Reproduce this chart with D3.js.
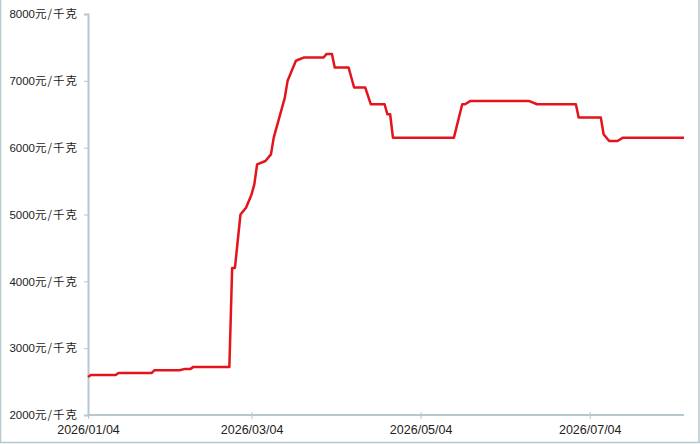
<!DOCTYPE html>
<html>
<head>
<meta charset="utf-8">
<script src="https://cdn.jsdelivr.net/npm/d3@7/dist/d3.min.js"></script>
<style>
  html, body { margin: 0; padding: 0; background: #fff; }
  svg { display: block; }
</style>
</head>
<body>
<svg id="chart" width="700" height="444"></svg>
<script>
// ---- data ----
const dates = [
  "2026-01-04","2026-01-05","2026-01-14","2026-01-15","2026-01-27","2026-01-28",
  "2026-02-06","2026-02-08","2026-02-10","2026-02-11","2026-02-24","2026-02-25",
  "2026-02-26","2026-02-28","2026-03-02","2026-03-04","2026-03-05","2026-03-06",
  "2026-03-09","2026-03-11","2026-03-12","2026-03-14","2026-03-16","2026-03-17",
  "2026-03-20","2026-03-23","2026-03-30","2026-03-31","2026-04-02","2026-04-03",
  "2026-04-08","2026-04-10","2026-04-14","2026-04-16","2026-04-21","2026-04-22",
  "2026-04-23","2026-04-24","2026-05-16","2026-05-19","2026-05-20","2026-05-22",
  "2026-06-12","2026-06-15","2026-06-29","2026-06-30","2026-07-08","2026-07-09",
  "2026-07-11","2026-07-14","2026-07-16","2026-08-07"
];
const prices = [
  2570,2600,2600,2630,2630,2670,
  2670,2690,2690,2720,2720,4200,
  4200,5000,5100,5300,5450,5750,
  5800,5900,6150,6450,6750,7000,
  7300,7350,7350,7400,7400,7200,
  7200,6900,6900,6650,6650,6500,
  6500,6150,6150,6650,6650,6700,
  6700,6650,6650,6450,6450,6200,
  6100,6100,6150,6150
];
const yTicks = [2000,3000,4000,5000,6000,7000,8000];
const xTickDates = ["2026-01-04","2026-03-04","2026-05-04","2026-07-04"];
const xDomain = ["2026-01-04","2026-08-07"];
const unitLabel = "元/千克";

// ---- drawing ----
const parse = d3.timeParse("%Y-%m-%d");
const fmt = d3.timeFormat("%Y/%m/%d");
const data = dates.map((d, i) => ({ date: parse(d), value: prices[i] }));

const svg = d3.select("#chart");
const axisColor = "#b6c8cc";

const x = d3.scaleTime().domain(xDomain.map(parse)).range([88, 684]);
const y = d3.scaleLinear().domain([2000, 8000]).range([415, 14]);

// outer frame (left, right, bottom)
svg.append("line").attr("x1", 0.5).attr("x2", 0.5).attr("y1", 0).attr("y2", 443)
  .attr("stroke", axisColor).attr("stroke-width", 1.5);
svg.append("line").attr("x1", 699).attr("x2", 699).attr("y1", 0).attr("y2", 443)
  .attr("stroke", axisColor).attr("stroke-width", 1.5);
svg.append("line").attr("x1", 0).attr("x2", 700).attr("y1", 442.5).attr("y2", 442.5)
  .attr("stroke", axisColor).attr("stroke-width", 1.5);

// y axis
const yAxis = d3.axisLeft(y).tickValues(yTicks).tickSize(4).tickPadding(6)
  .tickFormat(d => d);
const gy = svg.append("g").attr("transform", "translate(88,0)").call(yAxis);
gy.select(".domain").attr("stroke", axisColor).attr("stroke-width", 2);
gy.selectAll(".tick line").attr("stroke", axisColor).attr("stroke-width", 1);
gy.selectAll(".tick text").each(function(d) {
  const t = d3.select(this);
  t.text(null)
   .attr("fill", "#222")
   .attr("font-size", "11.5px")
   .attr("font-family", "'Liberation Sans', Arial, sans-serif");
  t.append("tspan").text(d);
  t.append("tspan").text(unitLabel)
   .attr("font-family", "'Noto Sans CJK SC', sans-serif")
   .attr("letter-spacing", "1px");
});

// x axis
const xAxis = d3.axisBottom(x).tickValues(xTickDates.map(parse)).tickSize(4)
  .tickPadding(6).tickFormat(fmt);
const gx = svg.append("g").attr("transform", "translate(0,415)").call(xAxis);
gx.select(".domain").attr("stroke", axisColor).attr("stroke-width", 2)
  .attr("d", `M${x.range()[0]},0H${x.range()[1]}`);
gx.selectAll(".tick line").attr("stroke", axisColor).attr("stroke-width", 1)
  .attr("y1", -3).attr("y2", 4);
gx.selectAll(".tick text")
  .attr("fill", "#222")
  .attr("font-size", "12.5px")
  .attr("font-family", "'Liberation Sans', Arial, sans-serif");

// line
const line = d3.line().x(d => x(d.date)).y(d => y(d.value));
svg.append("path").datum(data)
  .attr("d", line)
  .attr("fill", "none")
  .attr("stroke", "#e3141c")
  .attr("stroke-width", 2.5)
  .attr("stroke-linejoin", "round");
</script>
</body>
</html>
